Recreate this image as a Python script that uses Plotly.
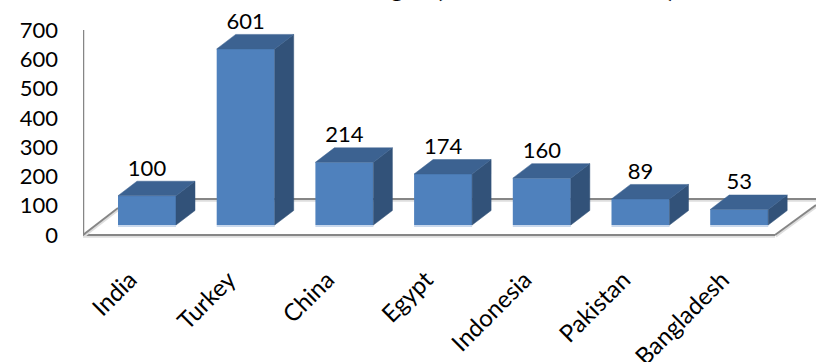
import plotly.graph_objects as go

categories = ["India", "Turkey", "China", "Egypt", "Indonesia", "Pakistan", "Bangladesh"]
values = [100, 601, 214, 174, 160, 89, 53]
y_ticks = [0, 100, 200, 300, 400, 500, 600, 700]
title_text = "Minimum Wages (US Dollars a Month)"

# Scene geometry, in axis units
PX_X = 98.7     # px per category
PX_Y = 0.293    # px per value unit
HALF = 29.0 / PX_X
DX = 19.0 / PX_X
DY = 14.5 / PX_Y
BASE = 10.0 / PX_Y
XMIN = (83 - 147) / PX_X
XMAX = (816 - 147) / PX_X
YMIN = -17.0
YMAX = 235.0 / PX_Y
BACK = 36.0 / PX_Y

FRONT = "#4F81BD"
TOP = "#3C6291"
SIDE = "#325279"
STRIP = "#C9D8EC"
AXIS = "#868686"
GLOW = "#DEDEDE"
FONT = "Lato"

xs = list(range(len(categories)))
fig = go.Figure()
shapes = []


def line(x, y, color, width, dash=None):
    shapes.append(dict(type="line", xref="x", yref="y", layer="below",
                       x0=x[0], x1=x[1], y0=y[0], y1=y[1],
                       line=dict(color=color, width=width, dash=dash or "solid")))


def face(x, y, color):
    fig.add_trace(go.Scatter(x=x, y=y, mode="lines", fill="toself", fillcolor=color, hoverinfo="skip",
                             line=dict(color=color, width=0.5), showlegend=False))


shadow = 5.0
# back wall line and floor outline
line([XMIN + 35 / PX_X, XMAX], [BACK - shadow, BACK - shadow], GLOW, 2.5)
line([XMIN, XMAX - 41 / PX_X], [-shadow, -shadow], GLOW, 2.5)
line([XMIN + 35 / PX_X, XMAX], [BACK, BACK], AXIS, 2)
line([XMIN, XMAX - 41 / PX_X], [0, 0], AXIS, 2)
line([XMIN + 1 / PX_X, XMIN + 36 / PX_X], [-shadow, 27 / PX_Y - shadow], GLOW, 2)
line([XMAX - 40 / PX_X, XMAX + 1 / PX_X], [-shadow, 30 / PX_Y - shadow], GLOW, 2)
line([XMIN, XMIN + 35 / PX_X], [0, 27 / PX_Y], AXIS, 2)
line([XMAX - 41 / PX_X, XMAX], [0, 30 / PX_Y], AXIS, 2)
line([XMIN, XMIN], [0, 700], AXIS, 2.5)

for x, v in zip(xs, values):
    t = v + BASE
    face([x + HALF, x + HALF + DX, x + HALF + DX, x + HALF, x + HALF],
         [BASE, BASE + DY, t + DY, t, BASE], SIDE)
    face([x - HALF, x + HALF, x + HALF + DX, x - HALF + DX, x - HALF],
         [t, t, t + DY, t + DY, t], TOP)

fig.add_trace(go.Bar(x=xs, y=[7] * len(xs), base=[BASE - 7] * len(xs), width=2 * HALF,
                     marker=dict(color=STRIP, line=dict(width=0)), showlegend=False, hoverinfo="skip"))
fig.add_trace(go.Bar(x=xs, y=values, base=[BASE] * len(xs), width=2 * HALF,
                     marker=dict(color=FRONT, line=dict(width=0)), showlegend=False))
fig.add_trace(go.Scatter(x=xs, y=[v + BASE + DY for v in values], mode="text",
                         text=[str(v) for v in values], textposition="top center", cliponaxis=False,
                         textfont=dict(family=FONT, size=22, color="#000000"),
                         showlegend=False, hoverinfo="skip"))

fig.update_layout(
    width=816, height=362, autosize=False,
    margin=dict(l=83, r=0, t=0, b=122, pad=0, autoexpand=False),
    paper_bgcolor="white", plot_bgcolor="rgba(0,0,0,0)",
    barmode="overlay", showlegend=False,
    shapes=shapes,
    font=dict(family=FONT, size=22, color="#000000"),
    xaxis=dict(range=[XMIN, XMAX], tickmode="array", tickvals=xs, ticktext=categories,
               tickangle=-45, showgrid=False, zeroline=False, showline=False, ticks="",
               automargin=False, ticklabelstandoff=20, ticklabelshift=-17,
               tickfont=dict(family=FONT, size=24, color="#000000")),
    yaxis=dict(range=[YMIN, YMAX], tickmode="array", tickvals=y_ticks, showgrid=False,
               zeroline=False, showline=False, ticks="", automargin=False, ticklabelstandoff=24,
               tickfont=dict(family=FONT, size=22, color="#000000")),
    annotations=[dict(text="<b>" + title_text + "</b>", xref="paper", yref="paper", x=0.508, y=1,
                      xanchor="center", yanchor="bottom", yshift=-5, showarrow=False,
                      font=dict(family=FONT, size=26, color="#000000"))],
)

fig.write_html("out.html", config={"displayModeBar": False},
               post_script="document.body.style.margin='0';document.documentElement.style.overflow='hidden';")
